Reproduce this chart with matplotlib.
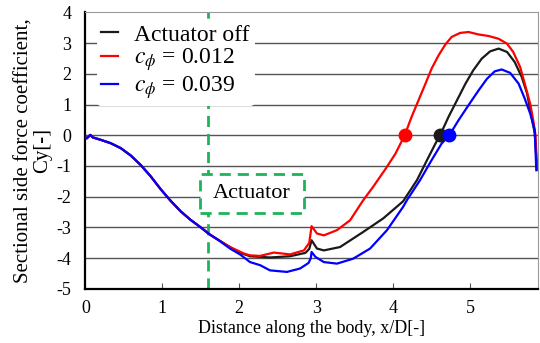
import numpy as np
import matplotlib
matplotlib.use("Agg")
import matplotlib.pyplot as plt
from matplotlib.patches import Rectangle

plt.rcParams['font.family'] = ['Liberation Serif', 'DejaVu Serif']
plt.rcParams['mathtext.fontset'] = 'stix'
plt.rcParams['axes.unicode_minus'] = False

# Shared section upstream of the actuator (all cases coincide)
x_common = [0.00, 0.02, 0.065, 0.095, 0.20, 0.33, 0.46, 0.59, 0.72, 0.85, 0.98, 1.11, 1.24,
            1.37, 1.50, 1.61]
cy_common = [-0.06, -0.10, 0.01, -0.07, -0.15, -0.26, -0.42, -0.66, -0.97, -1.34, -1.76, -2.14,
             -2.48, -2.76, -3.00, -3.22]

# Actuator off
x_off = x_common + [1.80, 2.00, 2.14, 2.40, 2.66, 2.86, 2.91, 2.94, 3.01, 3.10, 3.31, 3.61, 3.87,
                    4.13, 4.31, 4.44, 4.55, 4.61, 4.72, 4.83, 4.94, 5.04, 5.15, 5.26, 5.37, 5.48,
                    5.58, 5.67, 5.74, 5.79, 5.84, 5.87]
cy_off = cy_common + [-3.52, -3.82, -3.94, -3.98, -3.94, -3.83, -3.70, -3.42, -3.69, -3.75, -3.64,
                      -3.15, -2.71, -2.15, -1.46, -0.81, -0.27, 0.00, 0.60, 1.14, 1.68, 2.11, 2.49,
                      2.73, 2.82, 2.71, 2.38, 1.90, 1.36, 0.71, 0.05, -1.12]

# c_phi = 0.012
x_low = x_common + [1.80, 1.88, 2.06, 2.14, 2.27, 2.45, 2.66, 2.84, 2.91, 2.94, 3.01, 3.10, 3.27,
                    3.44, 3.61, 3.74, 3.90, 4.03, 4.15, 4.24, 4.33, 4.42, 4.50, 4.59, 4.68, 4.76,
                    4.87, 4.98, 5.11, 5.24, 5.37, 5.48, 5.56, 5.65, 5.71, 5.78, 5.82, 5.85, 5.87]
cy_low = cy_common + [-3.52, -3.64, -3.85, -3.91, -3.93, -3.82, -3.88, -3.75, -3.50, -2.96, -3.20,
                      -3.26, -3.09, -2.77, -2.12, -1.68, -1.10, -0.60, 0.00, 0.60, 1.14, 1.68, 2.17,
                      2.60, 2.96, 3.20, 3.33, 3.36, 3.28, 3.23, 3.14, 2.98, 2.71, 2.22, 1.68, 1.03,
                      0.49, 0.00, -1.12]

# c_phi = 0.039
x_high = x_common + [1.75, 1.88, 2.01, 2.14, 2.27, 2.40, 2.62, 2.79, 2.90, 2.93, 2.94, 2.99, 3.10,
                     3.27, 3.48, 3.70, 3.92, 4.13, 4.18, 4.35, 4.50, 4.63, 4.73, 4.85, 4.98, 5.11,
                     5.22, 5.32, 5.41, 5.52, 5.63, 5.71, 5.78, 5.84, 5.86]
cy_high = cy_common + [-3.45, -3.69, -3.88, -4.13, -4.23, -4.40, -4.45, -4.34, -4.16, -4.00, -3.80,
                       -3.96, -4.13, -4.18, -4.02, -3.69, -3.09, -2.33, -2.11, -1.46, -0.81, -0.27,
                       0.00, 0.49, 0.98, 1.46, 1.84, 2.08, 2.14, 2.03, 1.68, 1.19, 0.71, 0.16,
                       -1.14]

# zero crossings of Cy
x_zero = [4.61, 4.15, 4.73]

labels = ['Actuator off', r'$c_\phi$ = 0.012', r'$c_\phi$ = 0.039']
colors = ['#1a1a1a', '#ff0000', '#0000ff']
actuator_x = 1.6

fig = plt.figure(figsize=(5.4, 3.43), dpi=100)
ax = fig.add_axes([0.158, 0.158, 0.838, 0.806])

for yv in range(-4, 4):
    ax.axhline(yv, color='#555555', lw=1.0, zorder=1)

ax.axvline(actuator_x, color='#1db35a', lw=2.0, ls=(0, (4, 2.5)), zorder=2)

series = [(x_off, cy_off), (x_low, cy_low), (x_high, cy_high)]
for (xs, ys), lab, col in zip(series, labels, colors):
    ax.plot(xs, ys, color=col, lw=1.6, label=lab, zorder=3, solid_joinstyle='round')
for xz, col in zip(x_zero, colors):
    ax.plot([xz], [0], 'o', color=col, ms=9, zorder=4)

box = Rectangle((1.49, -2.54), 1.35, 1.28, facecolor='white', edgecolor='#1db35a',
                lw=2.0, ls=(0, (4, 2.5)), zorder=5)
ax.add_patch(box)
ax.text(2.165, -1.9, 'Actuator', fontsize=16, ha='center', va='center', zorder=6)

leg = ax.legend(loc='upper left', bbox_to_anchor=(0.025, 0.975), fontsize=17, frameon=True,
                framealpha=1, edgecolor='none', facecolor='white', handlelength=0.7,
                handletextpad=0.7, borderaxespad=0.0, labelspacing=0.05, borderpad=0.2)
leg.set_zorder(7)

ax.set_xlim(0, 5.88)
ax.set_ylim(-5, 4)
ax.set_xticks(range(0, 6))
ax.set_yticks(range(-5, 5))
ax.tick_params(axis='x', direction='in', length=4, color='#555555', labelsize=13, pad=8)
ax.tick_params(axis='y', length=0, labelsize=13, pad=10)

ax.spines['left'].set_linewidth(1.6)
ax.spines['bottom'].set_linewidth(1.6)
ax.spines['top'].set_color('#999999')
ax.spines['right'].set_color('#999999')

ax.set_xlabel('Distance along the body, x/D[-]', fontsize=13, labelpad=2)
ax.set_ylabel('Sectional side force coefficient,\nCy[-]', fontsize=15, labelpad=3,
              linespacing=1.0)

fig.savefig('out.png', dpi=100)
